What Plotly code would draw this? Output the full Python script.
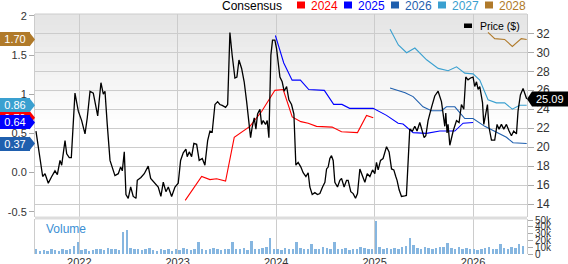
import plotly.graph_objects as go

# ---------------- data ----------------
price_t = [2021.560, 2021.601, 2021.628, 2021.652, 2021.685, 2021.720, 2021.753, 2021.777, 2021.804, 2021.821,
           2021.855, 2021.872, 2021.898, 2021.919, 2021.956, 2021.990, 2022.024, 2022.058, 2022.081, 2022.109,
           2022.142, 2022.187, 2022.220, 2022.244, 2022.261, 2022.284, 2022.312, 2022.362, 2022.396, 2022.420,
           2022.437, 2022.457, 2022.474, 2022.497, 2022.522, 2022.548, 2022.576, 2022.589, 2022.626, 2022.660,
           2022.700, 2022.725, 2022.769, 2022.802, 2022.829, 2022.853, 2022.880, 2022.904, 2022.938, 2022.972,
           2023.005, 2023.029, 2023.056, 2023.083, 2023.096, 2023.117, 2023.141, 2023.164, 2023.192, 2023.218,
           2023.249, 2023.276, 2023.304, 2023.327, 2023.350, 2023.378, 2023.405, 2023.428, 2023.452, 2023.472,
           2023.486, 2023.507, 2023.530, 2023.553, 2023.581, 2023.601, 2023.622, 2023.649, 2023.675, 2023.700,
           2023.716, 2023.740, 2023.756, 2023.777, 2023.794, 2023.811, 2023.835, 2023.852, 2023.868, 2023.892,
           2023.909, 2023.926, 2023.946, 2023.963, 2023.987, 2024.004, 2024.038, 2024.061, 2024.081, 2024.106,
           2024.129, 2024.156, 2024.180, 2024.200, 2024.223, 2024.251, 2024.274, 2024.302, 2024.325, 2024.342,
           2024.366, 2024.393, 2024.420, 2024.444, 2024.471, 2024.495, 2024.512, 2024.528, 2024.545, 2024.562,
           2024.579, 2024.596, 2024.623, 2024.647, 2024.664, 2024.690, 2024.715, 2024.731, 2024.758, 2024.782,
           2024.806, 2024.826, 2024.850, 2024.867, 2024.901, 2024.925, 2024.952, 2024.979, 2025.002, 2025.019,
           2025.036, 2025.060, 2025.086, 2025.121, 2025.147, 2025.172, 2025.195, 2025.215, 2025.228, 2025.249,
           2025.273, 2025.306, 2025.323, 2025.357, 2025.385, 2025.408, 2025.431, 2025.459, 2025.486, 2025.503,
           2025.520, 2025.543, 2025.578, 2025.611, 2025.645, 2025.679, 2025.713, 2025.723, 2025.736, 2025.746,
           2025.764, 2025.798, 2025.832, 2025.858, 2025.882, 2025.906, 2025.926, 2025.949, 2025.974, 2026.000,
           2026.017, 2026.035, 2026.051, 2026.068, 2026.096, 2026.109, 2026.129, 2026.146, 2026.162, 2026.187,
           2026.220, 2026.244, 2026.264, 2026.288, 2026.312, 2026.339, 2026.366, 2026.390, 2026.413, 2026.441,
           2026.457, 2026.481, 2026.508, 2026.528, 2026.545]
price_v = [21.7, 18.6, 16.9, 17.2, 16.2, 16.9, 17.5, 17.1, 18.6, 18.1,
           20.7, 19.3, 18.9, 18.9, 25.7, 23.8, 22.8, 21.4, 23.1, 25.9,
           25.7, 23.3, 26.8, 25.6, 25.9, 22.4, 18.6, 17.0, 17.2, 17.9,
           17.5, 19.5, 15.0, 14.6, 15.8, 14.8, 14.6, 16.5, 16.8, 17.2,
           18.0, 16.7, 16.2, 15.8, 14.8, 16.3, 15.3, 15.8, 14.8, 15.8,
           16.2, 18.6, 19.4, 19.8, 19.0, 19.5, 19.0, 20.4, 20.3, 18.6,
           18.8, 18.1, 20.7, 21.7, 21.6, 24.5, 24.8, 24.5, 24.4, 24.3,
           24.2, 24.5, 32.1, 29.7, 27.3, 27.4, 29.2, 28.3, 26.9, 24.8,
           23.5, 21.0, 22.1, 23.1, 21.9, 23.5, 24.0, 22.4, 22.8, 22.4,
           22.8, 21.0, 29.7, 31.3, 31.3, 30.4, 27.4, 26.9, 25.9, 26.4,
           25.0, 24.5, 23.5, 18.1, 18.4, 17.9, 17.3, 16.9, 17.3, 15.8,
           15.0, 15.2, 15.0, 15.1, 15.8, 16.3, 17.7, 17.9, 18.8, 19.1,
           18.6, 16.3, 15.8, 16.5, 16.7, 15.8, 16.5, 16.5, 15.3, 15.1,
           14.6, 15.1, 17.7, 17.2, 16.3, 17.2, 16.9, 17.6, 17.2, 18.4,
           17.6, 18.6, 18.8, 20.05, 19.5, 17.7, 17.6, 16.9, 16.5, 15.5,
           14.8, 14.85, 14.9, 21.9, 21.7, 22.2, 21.7, 22.6, 21.7, 21.0,
           21.2, 22.8, 24.2, 25.4, 25.9, 24.8, 22.2, 23.6, 21.5, 22.4,
           20.2, 21.7, 22.8, 22.6, 24.5, 24.0, 27.4, 27.1, 27.3, 27.4,
           26.4, 26.9, 26.1, 26.4, 24.7, 22.4, 23.5, 24.5, 22.1, 20.75,
           20.75, 22.4, 21.9, 22.4, 21.9, 22.4, 21.7, 21.2, 21.7, 21.4,
           23.8, 25.5, 26.2, 25.5, 25.09]

eps2024_t = [2023.076, 2023.243, 2023.327, 2023.395, 2023.486, 2023.574, 2023.733, 2023.852, 2023.987,
             2024.071, 2024.163, 2024.251, 2024.325, 2024.410, 2024.568, 2024.664, 2024.826, 2024.918, 2024.986]
eps2024_v = [-0.355, -0.05, -0.09, -0.08, -0.11, 0.45, 0.59, 0.78, 1.05,
             1.06, 0.71, 0.65, 0.63, 0.59, 0.58, 0.52, 0.51, 0.73, 0.70]

eps2025_t = [2023.992, 2024.077, 2024.162, 2024.246, 2024.331, 2024.489, 2024.584, 2024.668, 2024.746,
             2024.901, 2024.985, 2025.121, 2025.239, 2025.289, 2025.391, 2025.527, 2025.662, 2025.815,
             2025.899, 2026.000]
eps2025_v = [1.75, 1.40, 1.18, 1.18, 1.06, 1.05, 0.87, 0.87, 0.82,
             0.82, 0.82, 0.73, 0.63, 0.62, 0.51, 0.50, 0.53, 0.53,
             0.63, 0.64]

eps2026_t = [2025.157, 2025.310, 2025.391, 2025.492, 2025.577, 2025.679, 2025.730, 2025.815, 2025.916,
             2026.000, 2026.119, 2026.203, 2026.339, 2026.406, 2026.545]
eps2026_v = [1.08, 1.02, 0.97, 0.84, 0.79, 0.79, 0.84, 0.84, 0.69,
             0.69, 0.59, 0.54, 0.45, 0.38, 0.37]

eps2027_t = [2025.157, 2025.241, 2025.325, 2025.409, 2025.528, 2025.646, 2025.747, 2025.832, 2025.916,
             2026.000, 2026.068, 2026.152, 2026.237, 2026.321, 2026.399, 2026.473, 2026.545]
eps2027_v = [1.83, 1.63, 1.53, 1.59, 1.44, 1.33, 1.30, 1.35, 1.27,
             1.26, 1.18, 0.93, 0.89, 0.89, 0.81, 0.86, 0.86]

eps2028_t = [2026.152, 2026.220, 2026.321, 2026.399, 2026.490, 2026.545]
eps2028_v = [1.79, 1.71, 1.70, 1.61, 1.71, 1.70]

# volume, in thousands, roughly every two weeks from mid-2021
volume_k = [7, 5, 6, 5, 8, 6, 5, 7, 6, 8,
            12, 17, 6, 7, 5, 6, 8, 7, 6, 9,
            7, 8, 6, 33, 35, 9, 7, 8, 6, 7,
            9, 6, 5, 7, 6, 8, 5, 7, 6, 9,
            7, 6, 8, 18, 7, 6, 8, 9, 7, 6,
            8, 7, 18, 8, 7, 9, 6, 19, 8, 7,
            9, 10, 24, 8, 7, 6, 9, 7, 8, 18,
            9, 7, 8, 14, 7, 8, 10, 9, 8, 18,
            8, 7, 9, 6, 8, 7, 10, 9, 7, 8,
            48, 10, 8, 9, 7, 9, 8, 10, 12, 24,
            13, 9, 8, 10, 9, 8, 9, 11, 10, 16,
            9, 8, 10, 7, 9, 8, 7, 6, 8, 9,
            10, 7, 8, 15, 9, 8, 10, 9, 14, 12]
volume_start = 2021.565
volume_step_days = 14

series_names = ["2024", "2025", "2026", "2027", "2028"]
series_colors = ["#ff0000", "#0000ff", "#1f5fae", "#3aa0d0", "#b07a2a"]
eps_t = [eps2024_t, eps2025_t, eps2026_t, eps2027_t, eps2028_t]
eps_v = [eps2024_v, eps2025_v, eps2026_v, eps2027_v, eps2028_v]

year_ticks = [2022, 2023, 2024, 2025, 2026]
eps_ticks = [-0.5, 0.0, 0.5, 1.0, 1.5, 2.0]
eps_ticktext = ["-0.5", "0.0", "0.5", "1", "1.5", "2"]
price_ticks = [14, 16, 18, 20, 22, 24, 26, 28, 30, 32]
vol_ticks = [0, 10000, 20000, 30000, 40000, 50000]
vol_ticktext = ["0", "10k", "20k", "30k", "40k", "50k"]

# ---------------- layout geometry ----------------
W, H = 568, 264
L, R, T, B = 35, 41, 14, 10
PW, PH = W - L - R, H - T - B


def PX(px):
    return (px - L) / PW


def PY(py):
    return (H - B - py) / PH


FONT = "Liberation Sans, Arial, sans-serif"
GRID = "#cccccc"

fig = go.Figure()

# EPS estimate lines (left axis)
for name, col, tt, vv in zip(series_names, series_colors, eps_t, eps_v):
    fig.add_trace(go.Scatter(x=tt, y=vv, mode="lines", line=dict(color=col, width=1.1),
                             yaxis="y", name=name, showlegend=False, hoverinfo="skip"))

# price (right axis)
fig.add_trace(go.Scatter(x=price_t, y=price_v, mode="lines", line=dict(color="#000000", width=1.3),
                         yaxis="y2", name="Price ($)", showlegend=False))

# volume
vol_x = [volume_start + i * volume_step_days / 365.25 for i in range(len(volume_k))]
fig.add_trace(go.Bar(x=vol_x, y=[v * 1000 for v in volume_k], yaxis="y3", width=0.02,
                     marker=dict(color="#86b6e0", line=dict(width=0)), showlegend=False))

main_bottom = PY(217)
vol_top = PY(219)

fig.update_layout(
    width=W, height=H, margin=dict(l=L, r=R, t=T, b=B, autoexpand=False),
    paper_bgcolor="white", plot_bgcolor="rgba(0,0,0,0)",
    font=dict(family=FONT, size=11, color="#333333"),
    bargap=0,
    xaxis=dict(range=[2021.55, 2026.548], tickvals=year_ticks, ticktext=[str(y) for y in year_ticks],
               showgrid=True, gridcolor=GRID, gridwidth=1, zeroline=False, ticks="", showline=False,
               anchor="y3", automargin=False, tickfont=dict(size=11, color="#333333")),
    yaxis=dict(domain=[main_bottom, 1], range=[-0.568, 2.025], tickvals=eps_ticks, ticktext=eps_ticktext,
               showgrid=False, zeroline=False, ticks="outside", ticklen=5, tickcolor="#aaaaaa",
               showline=True, linecolor=GRID, automargin=False, tickfont=dict(size=11, color="#333333")),
    yaxis2=dict(overlaying="y", side="right", range=[12.63, 34.05], tickvals=price_ticks,
                showgrid=True, gridcolor=GRID, zeroline=False, ticks="outside", ticklen=6,
                tickcolor="#aaaaaa", showline=True, linecolor=GRID, automargin=False,
                tickfont=dict(size=12, color="#333333")),
    yaxis3=dict(domain=[0, vol_top], side="right", range=[0, 51500], tickvals=vol_ticks,
                ticktext=vol_ticktext, showgrid=False, zeroline=False, ticks="outside", ticklen=5,
                tickcolor="#aaaaaa", showline=True, linecolor=GRID, mirror=True, automargin=False,
                tickfont=dict(size=10, color="#333333")),
)

shapes = []
annotations = []

# gradient background in the price panel
n_bands = 20
band_top, band_bottom = 14, 125
for i in range(n_bands):
    y0 = band_top + (band_bottom - band_top) * i / n_bands
    y1 = band_top + (band_bottom - band_top) * (i + 1) / n_bands
    g = int(229 + (255 - 229) * i / (n_bands - 1))
    shapes.append(dict(type="rect", xref="paper", yref="paper", x0=0, x1=1, y0=PY(y1 + 0.5), y1=PY(y0),
                       fillcolor=f"rgb({g},{g},{g})", line=dict(width=0), layer="below"))

# separator between panels
shapes.append(dict(type="rect", xref="paper", yref="paper", x0=0, x1=1, y0=PY(219.5), y1=PY(216.5),
                   fillcolor="#dddddd", line=dict(width=0), layer="above"))
# top border
shapes.append(dict(type="line", xref="paper", yref="paper", x0=0, x1=1, y0=1, y1=1,
                   line=dict(color=GRID, width=1)))

# top legend
annotations.append(dict(text="Consensus", xref="paper", yref="paper", x=PX(284), y=PY(6),
                        xanchor="right", yanchor="middle", showarrow=False,
                        font=dict(size=12, color="#000000", family=FONT)))
sq_x = [297, 344, 391, 438, 485]
for name, col, sx in zip(series_names, series_colors, sq_x):
    shapes.append(dict(type="rect", xref="paper", yref="paper", x0=PX(sx), x1=PX(sx + 8),
                       y0=PY(8.5), y1=PY(1.5), fillcolor=col, line=dict(width=0)))
    annotations.append(dict(text=name, xref="paper", yref="paper", x=PX(sx + 11.5), y=PY(5.5),
                            xanchor="left", yanchor="middle", showarrow=False,
                            font=dict(size=12, color=col, family=FONT)))

# price legend inside the plot
shapes.append(dict(type="rect", xref="paper", yref="paper", x0=PX(464), x1=PX(472), y0=PY(28), y1=PY(23.5),
                   fillcolor="#000000", line=dict(width=0)))
annotations.append(dict(text="Price ($)", xref="paper", yref="paper", x=PX(478), y=PY(26),
                        xanchor="left", yanchor="middle", showarrow=False,
                        font=dict(size=10.5, color="#000000", family=FONT)))

# volume label
annotations.append(dict(text="Volume", xref="paper", yref="paper", x=PX(44), y=PY(229),
                        xanchor="left", yanchor="middle", showarrow=False,
                        font=dict(size=12, color="#3b8fd4", family=FONT)))

# left value flags (last estimate of each year); boxes are annotations so later ones cover earlier ones
for name, col, vv in zip(series_names, series_colors, eps_v):
    last = vv[-1]
    shapes.append(dict(type="path", xref="paper", yref="y", xsizemode="pixel", ysizemode="pixel",
                       xanchor=0, yanchor=last,
                       path="M -5.5,-7 L 0,0 L -5.5,7 Z",
                       fillcolor=col, line=dict(width=0), layer="above"))
    annotations.append(dict(text=f"{last:.2f}", xref="paper", yref="y", x=PX(0), y=last,
                            xanchor="left", yanchor="middle", showarrow=False,
                            width=30, height=14, align="center", valign="middle",
                            bgcolor=col, borderpad=0, borderwidth=0,
                            font=dict(size=11, color="white", family=FONT)))

# right price flag
last_price = price_v[-1]
shapes.append(dict(type="path", xref="paper", yref="y2", xsizemode="pixel", ysizemode="pixel",
                   xanchor=1, yanchor=last_price,
                   path="M 0,0 L 5,7.5 L 41,7.5 L 41,-7.5 L 5,-7.5 Z",
                   fillcolor="#000000", line=dict(width=0), layer="above"))
annotations.append(dict(text=f"{last_price:.2f}", xref="paper", yref="y2", x=PX(550), y=last_price,
                        xanchor="center", yanchor="middle", showarrow=False,
                        font=dict(size=11, color="white", family=FONT)))

fig.update_layout(shapes=shapes, annotations=annotations)

fig.write_html("out.html")
